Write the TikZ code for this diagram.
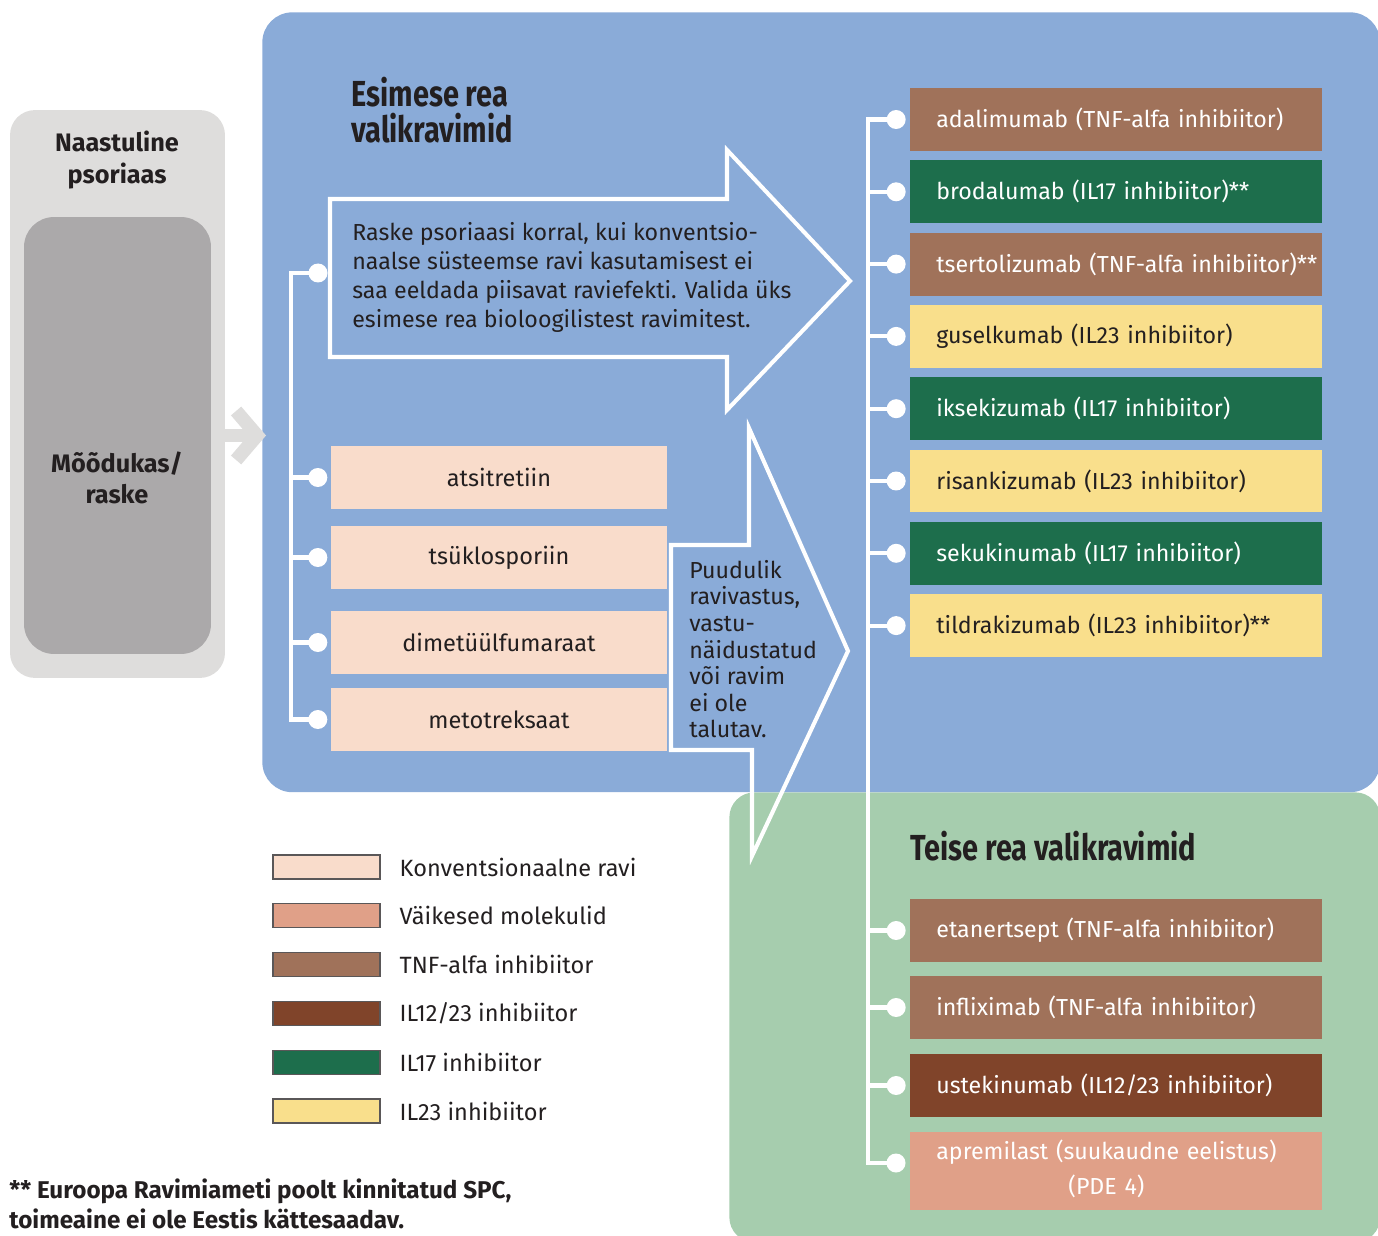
\documentclass[tikz,border=0pt]{standalone}
\usepackage{fontspec}
\setmainfont{Fira Sans}
\newfontfamily\condfont[FakeStretch=0.8]{Fira Sans}
\usetikzlibrary{arrows.meta,positioning}
\definecolor{bluebg}{HTML}{8AABD8}
\definecolor{greenbg}{HTML}{A6CDAE}
\definecolor{lightgrey}{HTML}{DEDDDC}
\definecolor{midgrey}{HTML}{ABA9AA}
\definecolor{konv}{HTML}{F9DCCB}
\definecolor{molek}{HTML}{E0A088}
\definecolor{tnf}{HTML}{A0725A}
\definecolor{ilkk}{HTML}{80442A}
\definecolor{ilsv}{HTML}{1D6E4C}
\definecolor{ilkk3}{HTML}{F9DF8C}
\definecolor{ink}{HTML}{231F20}
\tikzset{
 drug/.style={anchor=west, minimum height=1.26cm, text width=7.2cm,
   inner xsep=0.52cm, inner ysep=0pt, align=left, font=\fontsize{13.2}{17}\selectfont},
 konvbox/.style={fill=konv, minimum width=6.72cm, minimum height=1.26cm,
   inner sep=0pt, text=ink, font=\fontsize{13.4}{17}\selectfont},
 dot/.style={circle, fill=white, inner sep=0pt, minimum size=0.38cm},
 wline/.style={draw=white, line width=2.3pt},
 legbox/.style={draw=ink!75, line width=0.6pt, minimum width=2.14cm,
   minimum height=0.48cm, inner sep=0pt},
 legtext/.style={anchor=west, text=ink, font=\fontsize{13.4}{17}\selectfont},
 heading/.style={anchor=north west, align=left, text=ink, inner sep=0pt,
   font=\condfont\bfseries\fontsize{20.6}{20.6}\selectfont},
 }

\begin{document}
\begin{tikzpicture}[x=0.02cm,y=-0.02cm]
\useasboundingbox (0,0) rectangle (1378,1236);

% background panels
\node[fill=lightgrey, rounded corners=0.5cm, minimum width=4.3cm, minimum height=11.36cm] (naast) at (117.5,394) {};
\node[fill=midgrey, rounded corners=0.6cm, minimum width=3.74cm, minimum height=8.74cm] (mood) at (117.5,435.5) {};
\node[text=ink, align=center, font=\bfseries\fontsize{14.4}{18}\selectfont] (naasttxt) at (117,160) {Naastuline\\psoriaas};
\node[text=ink, align=center, font=\bfseries\fontsize{14.4}{18}\selectfont] (moodtxt) at (117,478) {Mõõdukas/\\raske};

\node[fill=greenbg, rounded corners=0.5cm, minimum width=13.02cm, minimum height=9cm, anchor=north west] (second) at (729,792) {};
\node[fill=bluebg, rounded corners=0.6cm, minimum width=22.36cm, minimum height=15.6cm, anchor=north west] (first) at (262,12) {};

\draw[lightgrey, line width=0.27cm, -{Straight Barb[length=0.42cm,width=0.98cm]}] (mood.center -| naast.east) -- ([xshift=0.08cm]mood.center -| first.west);

\node[heading] (t1) at (351,77) {Esimese rea\\valikravimid};
\node[heading] (t2) at (910,831) {Teise rea valikravimid};

% arrows
\draw[wline] (330,199) -- (727,199) -- (727,150) -- (850,281) -- (727,410) -- (727,357) -- (330,357) -- cycle;
\node[anchor=north west, align=left, text=ink, inner sep=0pt, font=\fontsize{13.2}{16.6}\selectfont] (raske) at (352,222)
 {Raske psoriaasi korral, kui konventsio-\\naalse süsteemse ravi kasutamisest ei\\saa eeldada piisavat raviefekti. Valida üks\\esimese rea bioloogilistest ravimitest.};
\draw[wline] (671,545) -- (749,545) -- (749,428) -- (848,651) -- (752,856) -- (752,750) -- (671,750) -- cycle;
\node[anchor=north west, align=left, text=ink, inner sep=0pt, font=\fontsize{13.2}{15.1}\selectfont] (puud) at (689,560)
 {Puudulik\\ravivastus,\\vastu-\\näidustatud\\või ravim\\ei ole\\talutav.};

% konventsionaalne ravi
\node[konvbox] (k1) at (499,477.5) {atsitretiin};
\node[konvbox] (k2) at (499,557.5) {tsüklosporiin};
\node[konvbox] (k3) at (499,642.5) {dimetüülfumaraat};
\node[konvbox] (k4) at (499,719.5) {metotreksaat};
\node[dot] (ld0) at (318,273) {};
\foreach \i in {1,...,4} \node[dot, left=0.06cm of k\i] (ld\i) {};
\draw[wline] (ld0.center) -- ++(-27,0) |- (ld4.center);
\foreach \i in {1,2,3} \draw[wline] (ld\i.center) -- ++(-27,0);

% esimese rea
\foreach \col/\tc/\txt [count=\i] in {
 tnf/white/{adalimumab (TNF-alfa inhibiitor)},
 ilsv/white/{brodalumab (IL17 inhibiitor)**},
 tnf/white/{tsertolizumab (TNF-alfa inhibiitor)**},
 ilkk3/ink/{guselkumab (IL23 inhibiitor)},
 ilsv/white/{iksekizumab (IL17 inhibiitor)},
 ilkk3/ink/{risankizumab (IL23 inhibiitor)},
 ilsv/white/{sekukinumab (IL17 inhibiitor)},
 ilkk3/ink/{tildrakizumab (IL23 inhibiitor)**}}
 {
 \pgfmathsetmacro\yy{119.5+(\i-1)*72.3}
 \node[drug, fill=\col, text=\tc] (e\i) at (910,\yy) {\mbox{\txt}};
 \node[dot, left=0.08cm of e\i] (ed\i) {};
 }

% teise rea
\node[drug, fill=tnf, text=white] (s1) at (910,930.5) {etanertsept (TNF-alfa inhibiitor)};
\node[drug, fill=tnf, text=white] (s2) at (910,1007.5) {infliximab (TNF-alfa inhibiitor)};
\node[drug, fill=ilkk, text=white] (s3) at (910,1085.5) {ustekinumab (IL12/23 inhibiitor)};
\node[drug, fill=molek, text=white, minimum height=1.56cm] (s4) at (910,1171)
 {\begin{tabular}{@{}c@{}}apremilast (suukaudne eelistus)\\[3pt](PDE 4)\end{tabular}};
\foreach \i in {1,...,3} \node[dot, left=0.08cm of s\i] (sd\i) {};
\node[dot] (sd4) at (896,1163) {};

\draw[wline] (ed1.center) -- ++(-28,0) |- (sd4.center);
\foreach \i in {2,...,8} \draw[wline] (ed\i.center) -- ++(-28,0);
\foreach \i in {1,2,3} \draw[wline] (sd\i.center) -- ++(-28,0);

% legend
\foreach \col/\txt [count=\i] in {konv/{Konventsionaalne ravi}, molek/{Väikesed molekulid},
 tnf/{TNF-alfa inhibiitor}, ilkk/{IL12/23 inhibiitor}, ilsv/{IL17 inhibiitor}, ilkk3/{IL23 inhibiitor}}
 {
 \pgfmathsetmacro\yy{867+(\i-1)*48.8}
 \node[legbox, fill=\col] (lg\i) at (326.5,\yy) {};
 \node[legtext, right=0.26cm of lg\i] (lt\i) {\txt};
 }

\node[anchor=north west, align=left, text=ink, inner sep=0pt, font=\bfseries\fontsize{13.8}{17.6}\selectfont] (note) at (9,1178)
 {** Euroopa Ravimiameti poolt kinnitatud SPC,\\toimeaine ei ole Eestis kättesaadav.};
\end{tikzpicture}
\end{document}
